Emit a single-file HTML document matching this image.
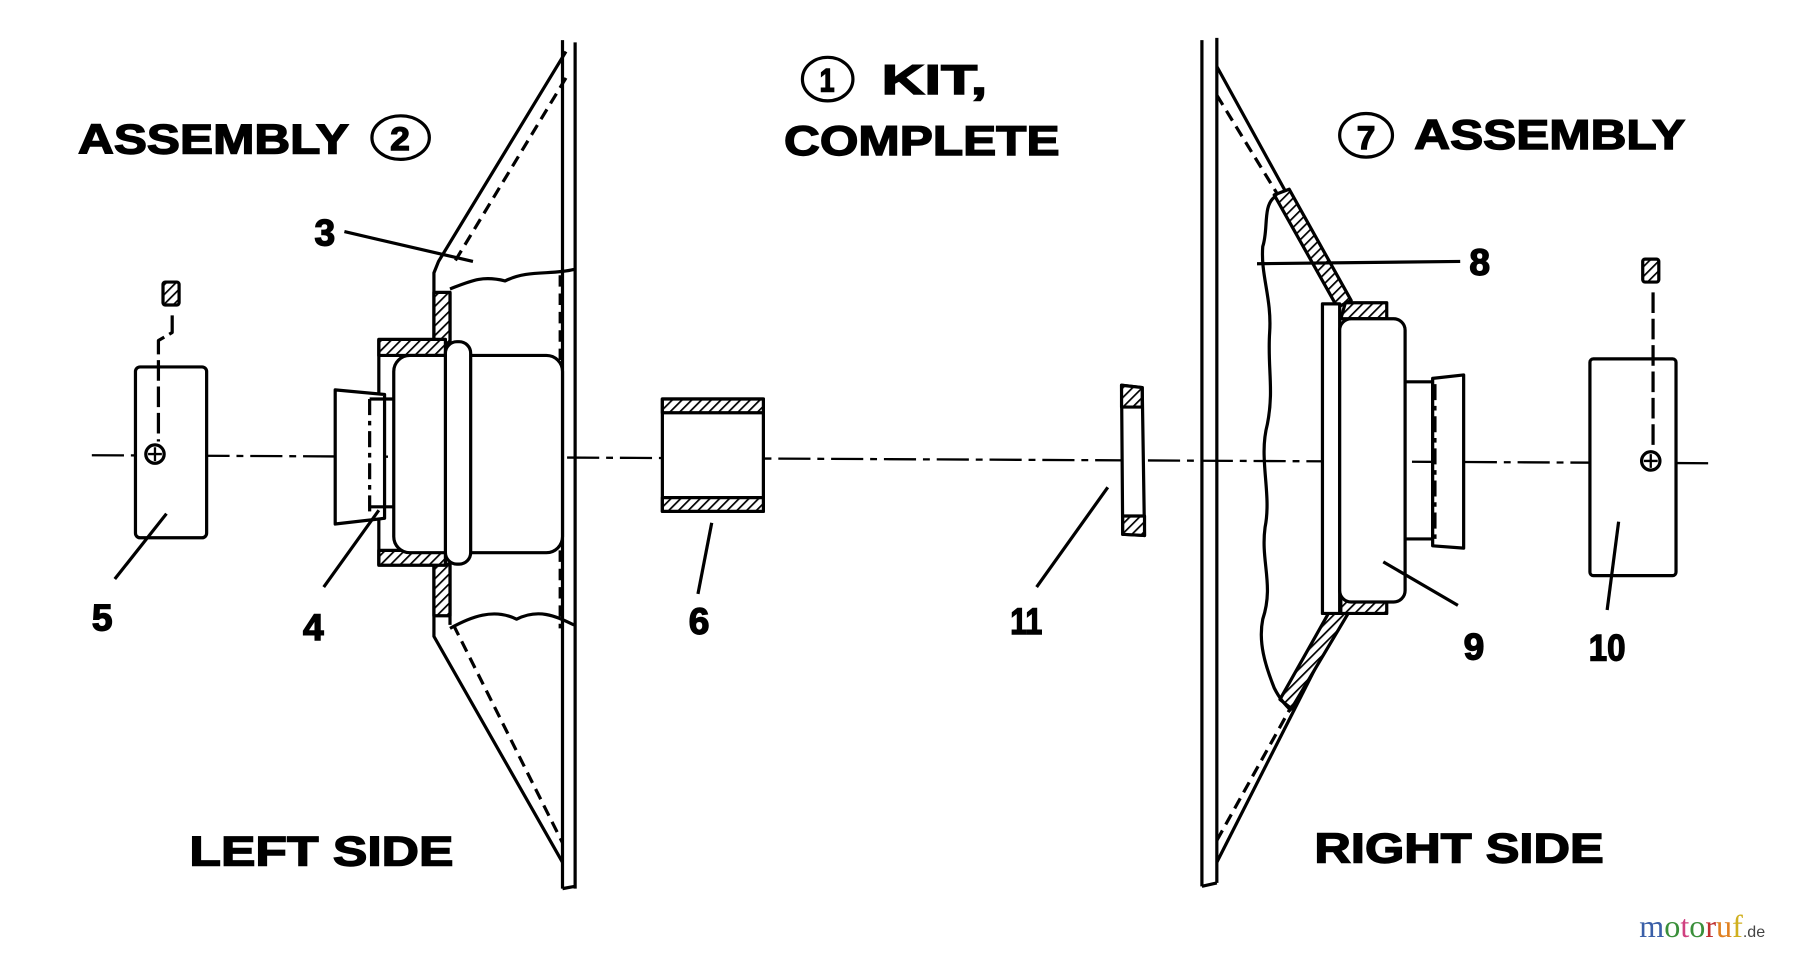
<!DOCTYPE html>
<html><head><meta charset="utf-8"><style>
html,body{margin:0;padding:0;background:#fff;width:1800px;height:954px;overflow:hidden}
svg{display:block}
.t{font-family:"Liberation Sans",sans-serif;font-weight:bold;fill:#000;stroke:#000;stroke-width:1.2}
</style></head><body>
<svg width="1800" height="954" viewBox="0 0 1568 832" preserveAspectRatio="none" xmlns="http://www.w3.org/2000/svg">
<defs>
<pattern id="h" width="6" height="6" patternUnits="userSpaceOnUse" patternTransform="rotate(45)">
<rect width="6" height="6" fill="#fff"/><line x1="0" y1="0" x2="0" y2="6" stroke="#000" stroke-width="3"/>
</pattern>
</defs>
<g fill="none" stroke="#000" stroke-width="2.8" stroke-linejoin="round">
<!-- axis -->
<path d="M80 397 L1490 404" stroke-width="2" stroke-dasharray="28 6 6 6"/>

<!-- LEFT ASSEMBLY -->
<path d="M490 35 L490 775 M501 37 L501 775 M490 775 L501 773"/>
<path d="M493 45 L382 228 L378 238 L378 555 L490 752"/>
<path d="M493 68 L395 230" stroke-dasharray="10 6"/>
<path d="M395 545 L490 735" stroke-dasharray="10 6"/>
<path d="M488 240 L488 548" stroke-dasharray="10 6"/>
<path d="M392 255 L392 545"/>
<path d="M392 252 C410 245 420 240 440 245 C460 235 480 240 500 235"/>
<path d="M392 548 C410 538 430 530 450 540 C470 530 485 538 500 545"/>
<rect x="378" y="255" width="14" height="45" fill="url(#h)"/>
<rect x="378" y="492" width="14" height="45" fill="url(#h)"/>
<path d="M330 296 L388 296 L388 310 L330 310 Z" fill="url(#h)"/>
<path d="M330 480 L388 480 L388 493 L330 493 Z" fill="url(#h)"/>
<path d="M330 296 L330 493"/>
<rect x="343" y="310" width="147" height="172" rx="14" fill="#fff"/>
<rect x="388" y="298" width="22" height="194" rx="10" fill="#fff"/>
<path d="M292 340 L335 344 L335 452 L292 457 Z" fill="#fff"/>
<path d="M322 348 L322 448" stroke-dasharray="14 5 4 5"/>
<path d="M322 348 L343 348 M322 442 L343 442"/>
<path d="M300 202 L412 228"/>
<path d="M282 512 L330 445"/>
<!-- part 5 -->
<rect x="118" y="320" width="62" height="149" rx="4" fill="#fff"/>
<path d="M150 275 L150 290 L138 297 L138 385" stroke-dasharray="18 5"/>
<rect x="142" y="246" width="14" height="20" rx="2" fill="url(#h)"/>
<circle cx="135" cy="396" r="8"/>
<path d="M135 390 L135 402 M129 396 L141 396" stroke-width="2"/>
<path d="M100 505 L145 448"/>
<!-- part 6 -->
<rect x="577" y="348" width="88" height="98" fill="#fff"/>
<rect x="577" y="348" width="88" height="12" fill="url(#h)"/>
<rect x="577" y="434" width="88" height="12" fill="url(#h)"/>
<path d="M608 518 L620 456"/>
<!-- part 11 -->
<path d="M977 336 L995 338 L997 467 L978 466 Z" fill="#fff"/>
<path d="M977 336 L995 338 L995 355 L977 355 Z" fill="url(#h)"/>
<path d="M978 450 L997 450 L997 467 L978 466 Z" fill="url(#h)"/>
<path d="M903 512 L965 425"/>

<!-- RIGHT ASSEMBLY -->
<path d="M1047 35 L1047 773 M1060 33 L1060 770 M1047 773 L1060 770"/>
<path d="M1060 58 L1172 262"/>
<path d="M1060 83 L1112 168" stroke-dasharray="10 6"/>
<path d="M1060 752 L1170 535"/>
<path d="M1060 733 L1125 616" stroke-dasharray="10 6"/>
<path d="M1110 170 L1123 165 L1177 262 L1165 268 Z" fill="url(#h)"/>
<path d="M1125 618 L1115 610 L1160 530 L1175 534 Z" fill="url(#h)"/>
<path d="M1110 172 C1100 180 1105 200 1100 215 C1098 240 1108 260 1106 290 C1104 320 1110 340 1104 370 C1096 400 1108 430 1102 460 C1098 490 1110 510 1100 540 C1096 560 1102 580 1110 600 C1115 610 1120 615 1125 620"/>
<path d="M1172 264 L1208 264 L1208 278 L1168 278 Z" fill="url(#h)"/>
<path d="M1168 520 L1208 520 L1208 535 L1168 535 Z" fill="url(#h)"/>
<rect x="1152" y="265" width="15" height="270" fill="#fff"/>
<rect x="1167" y="278" width="57" height="247" rx="10" fill="#fff"/>
<path d="M1224 333 L1248 333 L1248 470 L1224 470"/>
<path d="M1248 330 L1275 327 L1275 478 L1248 476 Z" fill="#fff"/>
<path d="M1250 335 L1250 470" stroke-dasharray="14 5 4 5"/>
<path d="M1095 230 L1272 228"/>
<path d="M1205 490 L1270 528"/>
<!-- part 10 -->
<rect x="1385" y="313" width="75" height="189" rx="3" fill="#fff"/>
<path d="M1440 255 L1440 390" stroke-dasharray="18 5"/>
<rect x="1431" y="226" width="14" height="20" rx="2" fill="url(#h)"/>
<circle cx="1438" cy="402" r="8"/>
<path d="M1438 396 L1438 408 M1432 402 L1444 402" stroke-width="2"/>
<path d="M1400 532 L1410 455"/>
<ellipse cx="349" cy="120" rx="25" ry="19"/>
<ellipse cx="721" cy="69" rx="22" ry="19"/>
<ellipse cx="1190" cy="118" rx="23" ry="19"/>
</g>
<g class="t">
<text x="68" y="134" font-size="36" textLength="236" lengthAdjust="spacingAndGlyphs">ASSEMBLY</text>
<text x="340" y="131" font-size="28" textLength="17" lengthAdjust="spacingAndGlyphs">2</text>
<text x="714" y="80" font-size="28" textLength="13" lengthAdjust="spacingAndGlyphs">1</text>
<text x="768" y="82" font-size="36" textLength="92" lengthAdjust="spacingAndGlyphs">KIT,</text>
<text x="683" y="135" font-size="36" textLength="240" lengthAdjust="spacingAndGlyphs">COMPLETE</text>
<text x="1182" y="130" font-size="28" textLength="16" lengthAdjust="spacingAndGlyphs">7</text>
<text x="1232" y="130" font-size="36" textLength="236" lengthAdjust="spacingAndGlyphs">ASSEMBLY</text>
<text x="165" y="755" font-size="36" textLength="230" lengthAdjust="spacingAndGlyphs">LEFT SIDE</text>
<text x="1145" y="752" font-size="36" textLength="252" lengthAdjust="spacingAndGlyphs">RIGHT SIDE</text>
<text x="274" y="214" font-size="32" textLength="18" lengthAdjust="spacingAndGlyphs">3</text>
<text x="264" y="558" font-size="32" textLength="18" lengthAdjust="spacingAndGlyphs">4</text>
<text x="80" y="550" font-size="32" textLength="18" lengthAdjust="spacingAndGlyphs">5</text>
<text x="600" y="553" font-size="32" textLength="18" lengthAdjust="spacingAndGlyphs">6</text>
<text x="880" y="553" font-size="32" textLength="28" lengthAdjust="spacingAndGlyphs">11</text>
<text x="1280" y="240" font-size="32" textLength="18" lengthAdjust="spacingAndGlyphs">8</text>
<text x="1275" y="575" font-size="32" textLength="18" lengthAdjust="spacingAndGlyphs">9</text>
<text x="1384" y="576" font-size="32" textLength="32" lengthAdjust="spacingAndGlyphs">10</text>
</g>
<text x="1428" y="817" font-family="Liberation Serif,serif" font-size="28"><tspan fill="#3a5fa8">m</tspan><tspan fill="#3a8f3a">o</tspan><tspan fill="#d04080">t</tspan><tspan fill="#3a8f3a">o</tspan><tspan fill="#c03030">r</tspan><tspan fill="#e08020">u</tspan><tspan fill="#d0b020">f</tspan><tspan fill="#444" font-size="14" font-family="Liberation Sans,sans-serif">.de</tspan></text>
</svg>
</body></html>
